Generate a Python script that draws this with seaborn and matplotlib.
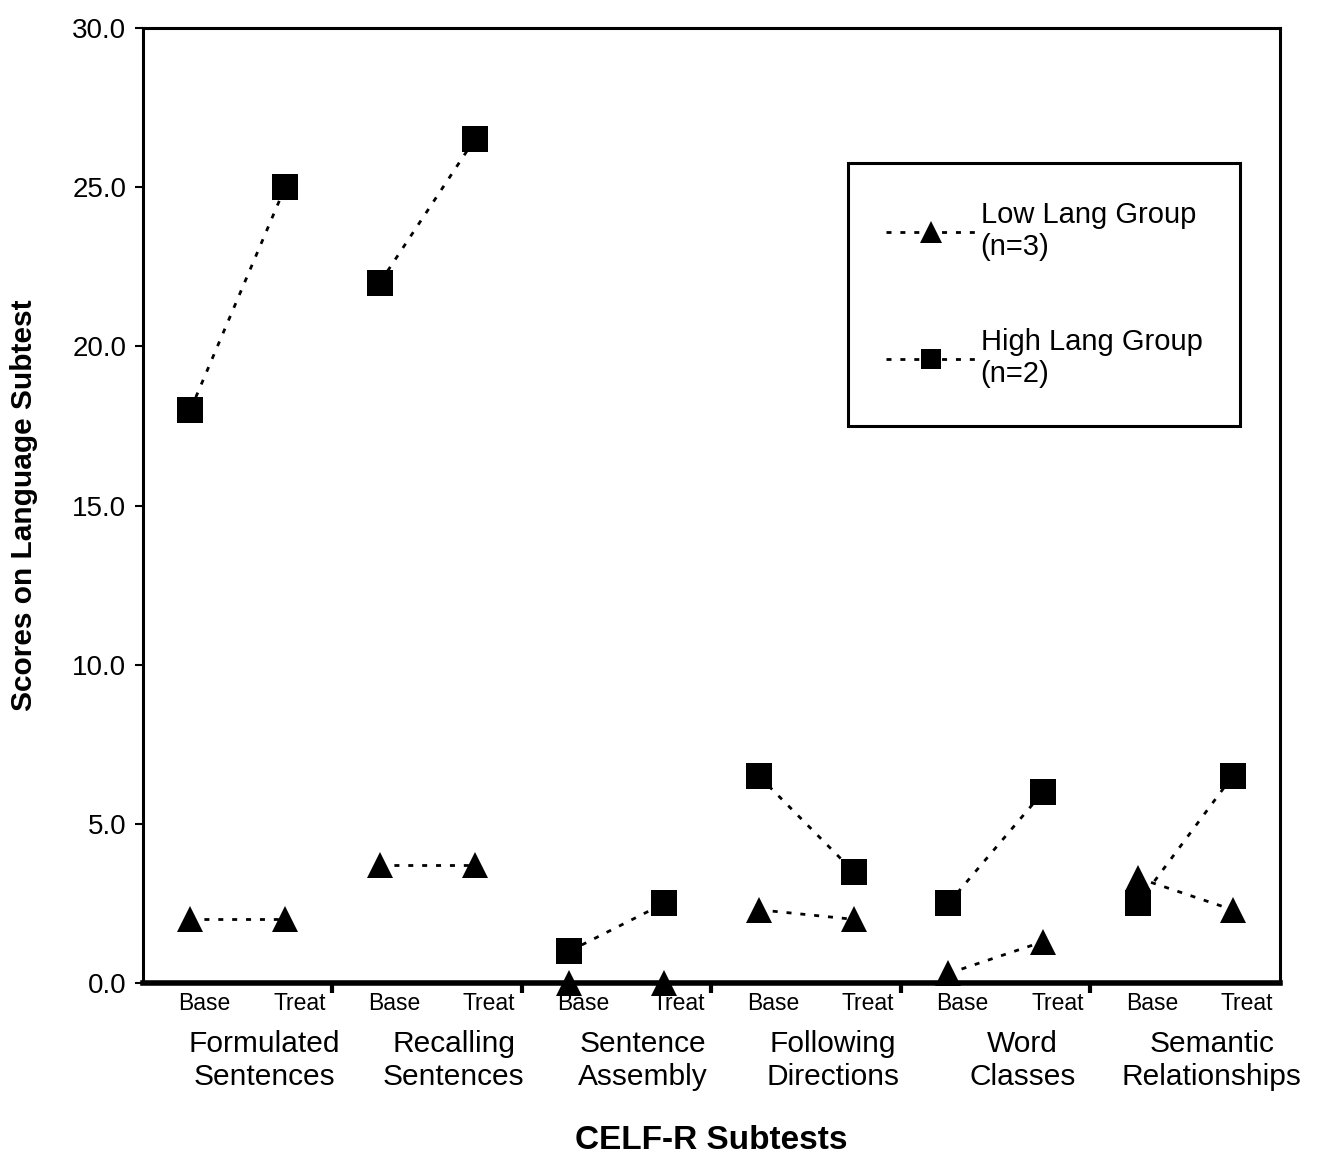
import pandas as pd
import seaborn as sns
import matplotlib.pyplot as plt
from matplotlib.lines import Line2D

subtests = ['Formulated\nSentences', 'Recalling\nSentences', 'Sentence\nAssembly',
            'Following\nDirections', 'Word\nClasses', 'Semantic\nRelationships']
phases = ['Base', 'Treat']
groups = ['Low Lang Group\n(n=3)', 'High Lang Group\n(n=2)']

low_base = [2.0, 3.7, 0.0, 2.3, 0.3, 3.3]
low_treat = [2.0, 3.7, 0.0, 2.0, 1.3, 2.3]
high_base = [18.0, 22.0, 1.0, 6.5, 2.5, 2.5]
high_treat = [25.0, 26.5, 2.5, 3.5, 6.0, 6.5]

y_ticks = [0, 5, 10, 15, 20, 25, 30]

# long table for seaborn
rows = []
for g, base, treat in [(groups[0], low_base, low_treat), (groups[1], high_base, high_treat)]:
    for i, s in enumerate(subtests):
        rows.append({'group': g, 'subtest': s, 'pos': 2 * i, 'score': base[i]})
        rows.append({'group': g, 'subtest': s, 'pos': 2 * i + 1, 'score': treat[i]})
df = pd.DataFrame(rows)

sns.set_style('white')
plt.rcParams['font.family'] = ['Liberation Sans', 'DejaVu Sans']
plt.rcParams['text.color'] = 'black'
plt.rcParams['axes.labelcolor'] = 'black'
plt.rcParams['xtick.color'] = 'black'
plt.rcParams['ytick.color'] = 'black'

fig = plt.figure(figsize=(13.22, 11.61), dpi=100)
ax = fig.add_axes([143 / 1322, 1 - 983 / 1161, 1137 / 1322, 955 / 1161])

dash = (1.8, 3.2)
sns.lineplot(data=df, x='pos', y='score', hue='group', style='group', units='subtest',
             estimator=None, palette=['black', 'black'],
             markers={groups[0]: '^', groups[1]: 's'},
             dashes={groups[0]: dash, groups[1]: dash},
             markersize=19, markeredgewidth=0, linewidth=2.0,
             legend=False, ax=ax, clip_on=False)

ax.set_xlim(-0.5, 11.5)
ax.set_ylim(0, 30)
ax.set_yticks(y_ticks)
ax.set_yticklabels([f'{v:.1f}' for v in y_ticks], fontsize=20)
ax.set_xticks([1.5, 3.5, 5.5, 7.5, 9.5])
ax.set_xticklabels([])
ax.tick_params(axis='x', direction='out', length=7, width=3, color='black', bottom=True)
ax.tick_params(axis='y', direction='out', length=6, width=1.5, color='black', left=True, pad=6)

for side in ['left', 'right', 'top']:
    ax.spines[side].set_linewidth(2.2)
    ax.spines[side].set_color('black')
ax.spines['bottom'].set_linewidth(4)
ax.spines['bottom'].set_color('black')

# Base / Treat labels and subtest names under the axis
xt = ax.get_xaxis_transform()
for i, s in enumerate(subtests):
    for j, p in enumerate(phases):
        ax.text(2 * i + j + 0.15, -0.021, p, transform=xt, ha='center', va='center', fontsize=16.5)
    ax.text(2 * i + 0.5 + 0.28, -0.081, s, transform=xt, ha='center', va='center',
            fontsize=21.5, linespacing=1.2)

ax.set_xlabel('CELF-R Subtests', fontsize=24, fontweight='bold')
ax.xaxis.set_label_coords(0.5, -0.149)
ax.set_ylabel('Scores on Language Subtest', fontsize=21.5, fontweight='bold')
ax.yaxis.set_label_coords(-0.092, 0.5)

handles = [
    Line2D([], [], color='black', linestyle=(0, dash), linewidth=2.0,
           marker='^', markersize=16, markeredgewidth=0),
    Line2D([], [], color='black', linestyle=(0, dash), linewidth=2.0,
           marker='s', markersize=14, markeredgewidth=0),
]
leg = ax.legend(handles, groups, loc='upper left', bbox_to_anchor=(0.62, 0.859),
                fontsize=21, frameon=True, fancybox=False, framealpha=1,
                handlelength=3.1, handletextpad=0.15, borderpad=1.3,
                labelspacing=2.3, borderaxespad=0)
leg.get_frame().set_edgecolor('black')
leg.get_frame().set_linewidth(2.2)
for t in leg.get_texts():
    t.set_linespacing(1.2)

fig.savefig('out.png', dpi=100)
